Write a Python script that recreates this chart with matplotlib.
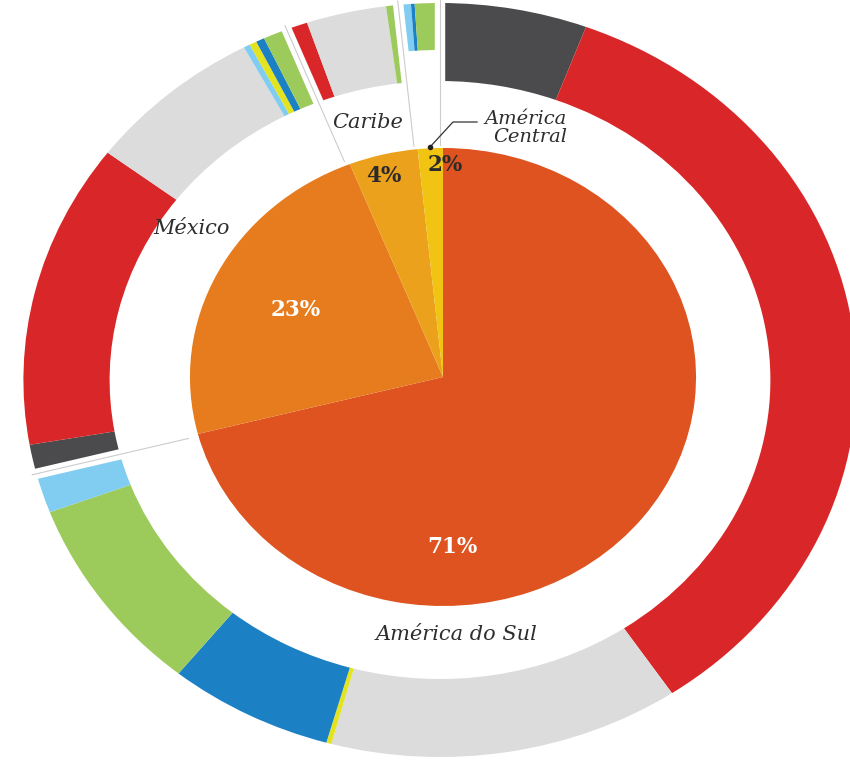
import numpy as np
import matplotlib
matplotlib.use("Agg")
from matplotlib import pyplot as plt

# inner pie: share of each region, clockwise from 12 o'clock
regioes = ["América do Sul", "México", "Caribe", "América\nCentral"]
participacao = [71, 23, 4.4, 1.6]
rotulos_pct = ["71%", "23%", "4%", "2%"]

# outer ring: breakdown of each region (% of total), same order as the pie
anel_sul = [5.7, 34.9, 13.6, 0.2, 6.4, 8.5, 1.7]
anel_mexico = [1.25, 13.05, 6.9, 0.25, 0.28, 0.33, 0.94]
anel_caribe = [0.83, 3.1, 0.47]
anel_central = [0.49, 0.14, 0.97]

# colours
cinza_esc, vermelho, cinza = "#4b4b4d", "#d92628", "#dcdcdc"
amarelo, azul, verde, azul_claro = "#e3e41f", "#1b80c4", "#9dcb5b", "#80cdf1"
cores_regiao = ["#de531f", "#e67c1e", "#eba11b", "#f1c413"]
cores_sul = [cinza_esc, vermelho, cinza, amarelo, azul, verde, azul_claro]
cores_mexico = [cinza_esc, vermelho, cinza, azul_claro, amarelo, azul, verde]
cores_caribe = [vermelho, cinza, verde]
cores_central = [azul_claro, azul, verde]

SX = 1.105  # the original picture is stretched sideways


def px(x, y):
    # picture pixel -> data coords (ring centre at origin)
    return (x - 440) / SX, 380 - y


R_PIE = 229
R_OUT = 377
W_RING = 78

fig = plt.figure(figsize=(8.5, 7.6), dpi=100)
ax = fig.add_axes([0, 0, 1, 1])

ax.pie(participacao, colors=cores_regiao, radius=R_PIE, center=px(443, 377),
       startangle=90, counterclock=False, wedgeprops=dict(linewidth=0))

anel = anel_sul + anel_mexico + anel_caribe + anel_central
cores_anel = cores_sul + cores_mexico + cores_caribe + cores_central
wedges, _ = ax.pie(anel, colors=cores_anel, radius=R_OUT, center=(0, 0),
                   startangle=90, counterclock=False,
                   wedgeprops=dict(width=W_RING, linewidth=0))
for w in wedges[-len(anel_central):]:
    w.set_width(47)

# separators between regions
limites = 90 - 360 * np.cumsum([0] + participacao[:-1]) / 100
for ang in limites:
    t = np.deg2rad(ang)
    r = np.array([R_PIE + 6, R_OUT + 4])
    ax.plot(r * np.cos(t), r * np.sin(t), color="white", lw=7.5,
            solid_capstyle="butt")
    ax.plot(r * np.cos(t), r * np.sin(t), color="#cccccc", lw=0.8)

# region names
pos_nome = [(456, 634), (192, 229), (368, 123)]
for nome, (x, y) in zip(regioes[:3], pos_nome):
    ax.text(*px(x, y), nome, ha="center", va="center", fontsize=15,
            style="italic", family="DejaVu Serif", color="#2e2e2e")
ax.text(*px(567, 128), regioes[3], ha="right", va="center", fontsize=14,
        style="italic", family="DejaVu Serif", color="#2e2e2e",
        linespacing=0.95)

# leader line for America Central
lx, ly = zip(px(477, 122), px(453, 122), px(430, 147))
ax.plot(lx, ly, color="#333333", lw=0.9)
ax.plot(lx[-1], ly[-1], "o", color="#222222", ms=3)

# percentages
pos_pct = [(452, 547), (296, 310), (384, 176), (445, 165)]
cor_pct = ["white", "white", "#2b2b2b", "#2b2b2b"]
for txt, (x, y), c in zip(rotulos_pct, pos_pct, cor_pct):
    ax.text(*px(x, y), txt, ha="center", va="center", fontsize=15.5,
            fontweight="bold", family="DejaVu Serif", color=c)

ax.set_aspect("auto")
ax.set_xlim(px(0, 0)[0], px(850, 0)[0])
ax.set_ylim(-380, 380)
ax.axis("off")

fig.savefig("out.png", dpi=100, facecolor="white")
